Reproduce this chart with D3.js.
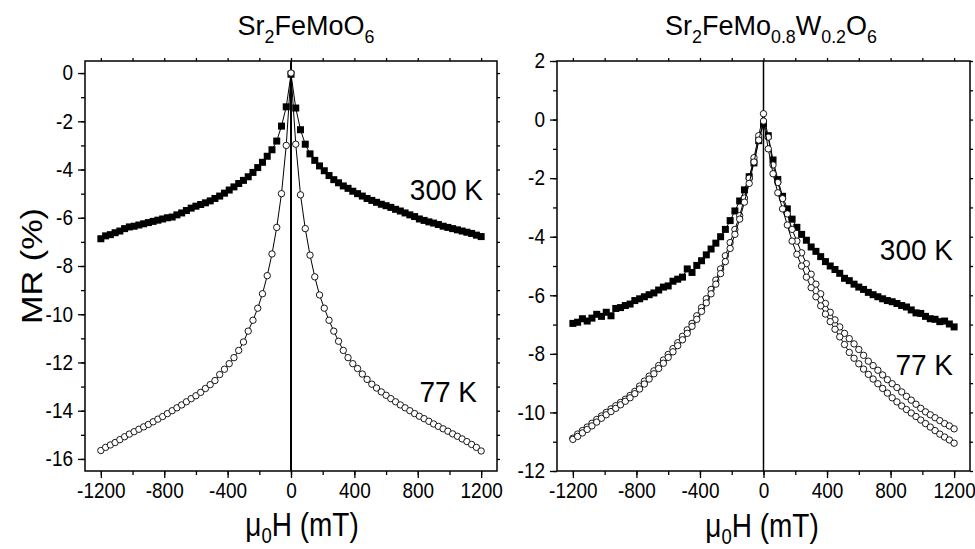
<!DOCTYPE html>
<html>
<head>
<meta charset="utf-8">
<script src="https://cdn.jsdelivr.net/npm/d3@7"></script>
<style>
  body { margin: 0; background: #fff; }
  svg { display: block; font-family: "Liberation Sans", Arial, sans-serif; }
</style>
</head>
<body>
<div id="chart"></div>
<script>
// field grid (mT) shared by all sweeps
const fieldGrid = [-1200,-1170,-1140,-1110,-1080,-1050,-1020,-990,-960,-930,-900,-870,-840,-810,-780,-750,-720,-690,-660,-630,-600,-570,-540,-510,-480,-450,-420,-390,-360,-330,-300,-270,-240,-210,-180,-150,-120,-90,-60,-30,0,30,60,90,120,150,180,210,240,270,300,330,360,390,420,450,480,510,540,570,600,630,660,690,720,750,780,810,840,870,900,930,960,990,1020,1050,1080,1110,1140,1170,1200];

// Sr2FeMoO6, MR (%)
const sfmo300K = [-6.87,-6.75,-6.70,-6.62,-6.55,-6.45,-6.38,-6.35,-6.30,-6.25,-6.20,-6.15,-6.10,-6.05,-6.00,-5.97,-5.88,-5.80,-5.70,-5.60,-5.52,-5.45,-5.38,-5.30,-5.20,-5.10,-4.98,-4.85,-4.72,-4.58,-4.45,-4.30,-4.12,-3.92,-3.70,-3.45,-3.18,-2.82,-2.20,-1.40,-0.05,
  -1.45,-2.35,-2.95,-3.35,-3.62,-3.85,-4.05,-4.25,-4.42,-4.55,-4.68,-4.78,-4.90,-5.00,-5.10,-5.20,-5.28,-5.36,-5.44,-5.50,-5.57,-5.65,-5.72,-5.80,-5.88,-5.95,-6.05,-6.11,-6.17,-6.22,-6.28,-6.35,-6.40,-6.45,-6.50,-6.55,-6.60,-6.65,-6.72,-6.78];
const sfmo77K = [-15.65,-15.52,-15.42,-15.32,-15.20,-15.08,-14.97,-14.87,-14.77,-14.67,-14.57,-14.46,-14.35,-14.24,-14.12,-14.00,-13.88,-13.76,-13.63,-13.50,-13.38,-13.24,-13.08,-12.92,-12.75,-12.50,-12.28,-12.05,-11.80,-11.50,-11.15,-10.70,-10.25,-9.75,-9.15,-8.40,-7.50,-6.40,-5.00,-3.00,0.00,
  -2.95,-5.05,-6.45,-7.55,-8.45,-9.20,-9.75,-10.25,-10.70,-11.12,-11.50,-11.80,-12.05,-12.25,-12.48,-12.70,-12.90,-13.06,-13.22,-13.36,-13.50,-13.63,-13.76,-13.88,-14.00,-14.12,-14.23,-14.33,-14.44,-14.55,-14.65,-14.75,-14.85,-14.96,-15.06,-15.17,-15.28,-15.40,-15.52,-15.67];

// Sr2FeMo0.8W0.2O6, MR (%)
const sfmw300K = [-6.96,-6.92,-6.80,-6.88,-6.78,-6.65,-6.72,-6.58,-6.70,-6.45,-6.42,-6.35,-6.30,-6.18,-6.12,-6.05,-5.98,-5.92,-5.82,-5.72,-5.68,-5.52,-5.45,-5.38,-5.10,-5.22,-4.98,-4.82,-4.62,-4.42,-4.22,-4.00,-3.75,-3.45,-3.12,-2.78,-2.40,-1.95,-1.48,-0.72,-0.15,
  -0.55,-1.38,-2.05,-2.62,-3.05,-3.40,-3.68,-3.92,-4.12,-4.35,-4.50,-4.68,-4.85,-5.00,-5.12,-5.25,-5.42,-5.50,-5.62,-5.72,-5.80,-5.90,-5.98,-6.05,-6.12,-6.18,-6.22,-6.28,-6.35,-6.40,-6.50,-6.60,-6.62,-6.72,-6.80,-6.82,-6.90,-6.88,-6.98,-7.08];
const sfmw77Kup = [-10.88,-10.74,-10.62,-10.50,-10.37,-10.24,-10.12,-10.00,-9.88,-9.77,-9.66,-9.55,-9.42,-9.28,-9.10,-8.93,-8.76,-8.58,-8.40,-8.21,-8.02,-7.82,-7.62,-7.40,-7.18,-6.96,-6.70,-6.42,-6.12,-5.80,-5.48,-5.10,-4.65,-4.20,-3.75,-3.28,-2.68,-2.00,-1.30,-0.55,0.20,
  -0.60,-1.55,-2.15,-2.70,-3.22,-3.75,-4.15,-4.55,-4.92,-5.28,-5.62,-5.95,-6.28,-6.58,-6.84,-7.08,-7.30,-7.48,-7.66,-7.85,-8.05,-8.25,-8.40,-8.56,-8.72,-8.88,-9.02,-9.15,-9.30,-9.45,-9.58,-9.72,-9.86,-9.98,-10.08,-10.18,-10.28,-10.38,-10.46,-10.56];
const sfmw77Kdown = [-10.92,-10.82,-10.70,-10.58,-10.46,-10.33,-10.20,-10.08,-9.97,-9.86,-9.74,-9.62,-9.50,-9.36,-9.20,-9.03,-8.86,-8.68,-8.50,-8.32,-8.12,-7.93,-7.72,-7.52,-7.30,-7.06,-6.82,-6.55,-6.26,-5.95,-5.62,-5.26,-4.85,-4.40,-3.92,-3.40,-2.82,-2.18,-1.45,-0.70,-0.05,
  -1.00,-1.85,-2.50,-3.05,-3.60,-4.15,-4.60,-5.00,-5.38,-5.74,-6.05,-6.36,-6.64,-6.90,-7.16,-7.42,-7.68,-7.95,-8.15,-8.34,-8.52,-8.70,-8.86,-9.02,-9.18,-9.34,-9.50,-9.64,-9.78,-9.90,-10.02,-10.14,-10.26,-10.38,-10.50,-10.62,-10.74,-10.84,-10.94,-11.05];

const xTicks = [-1200, -800, -400, 0, 400, 800, 1200];

const width = 975;
const height = 549;
const plotTop = 61, plotBottom = 471;
const sy = 1.12; // glyphs in the reference are a bit taller than wide

const panels = [
  {
    left: 85, right: 497, yDomain: [-16.5, 0.5], yMajor: d3.range(-16, 1, 2), yMinor: d3.range(-16, 1, 1),
    title: [['Sr'], ['2', 1], ['FeMoO'], ['6', 1]], titleX: 306, xLabelX: 302, xLabelY: 536, zeroWidth: 2,
    series: [
      { values: sfmo300K, marker: 'square' },
      { values: sfmo77K, marker: 'circle' }
    ],
    labels: [{ text: '300 K', x: 483, y: 200 }, { text: '77 K', x: 477, y: 402 }]
  },
  {
    left: 557, right: 970, yDomain: [-12, 2], yMajor: d3.range(-12, 3, 2), yMinor: d3.range(-12, 3, 1),
    title: [['Sr'], ['2', 1], ['FeMo'], ['0.8', 1], ['W'], ['0.2', 1], ['O'], ['6', 1]], titleX: 771, xLabelX: 762, xLabelY: 537, zeroWidth: 1.5,
    series: [
      { values: sfmw300K, marker: 'square' },
      { values: sfmw77Kup, marker: 'circle' },
      { values: sfmw77Kdown, marker: 'circle' }
    ],
    labels: [{ text: '300 K', x: 953, y: 260 }, { text: '77 K', x: 953, y: 375 }]
  }
];

const svg = d3.select('#chart')
  .append('svg')
  .attr('width', width)
  .attr('height', height);

// text with optional subscripts: parts = [[string, isSub], ...]
function richText(parent, parts, x, y, size, anchor, transformExtra, subShift = 0.28) {
  const t = parent.append('text')
    .attr('transform', `translate(${x},${y}) ${transformExtra}`)
    .attr('text-anchor', anchor)
    .attr('font-size', size)
    .attr('fill', '#000');
  let down = false;
  parts.forEach(([s, sub]) => {
    const span = t.append('tspan').text(s);
    if (sub && !down) { span.attr('dy', size * subShift).attr('font-size', size * 0.66); down = true; }
    else if (sub) { span.attr('font-size', size * 0.66); }
    else if (down) { span.attr('dy', -size * subShift); down = false; }
  });
  return t;
}

panels.forEach(p => {
  const g = svg.append('g');
  const x = d3.scaleLinear().domain([-1300, 1300]).range([p.left, p.right]);
  const y = d3.scaleLinear().domain(p.yDomain).range([plotBottom, plotTop]);

  // minor ticks on all four sides
  g.append('g').attr('transform', `translate(${p.left},0)`)
    .call(d3.axisLeft(y).tickValues(p.yMinor).tickSize(4).tickFormat(''));
  g.append('g').attr('transform', `translate(${p.right},0)`)
    .call(d3.axisRight(y).tickValues(p.yMinor).tickSize(3).tickFormat(''));
  g.append('g').attr('transform', `translate(0,${plotBottom})`)
    .call(d3.axisBottom(x).tickValues(d3.range(-1200, 1201, 200)).tickSize(4).tickFormat(''));
  g.append('g').attr('transform', `translate(0,${plotTop})`)
    .call(d3.axisTop(x).tickValues(d3.range(-1200, 1201, 200)).tickSize(3).tickFormat(''));

  // major ticks with labels (plain hyphen as minus, like the original)
  const yAxis = g.append('g').attr('transform', `translate(${p.left},0)`)
    .call(d3.axisLeft(y).tickValues(p.yMajor).tickSize(7).tickPadding(5).tickFormat(d => String(d)));
  const xAxis = g.append('g').attr('transform', `translate(0,${plotBottom})`)
    .call(d3.axisBottom(x).tickValues(xTicks).tickSize(7).tickPadding(4).tickFormat(d => String(d)));

  [yAxis, xAxis].forEach(a => {
    a.selectAll('text').attr('font-size', 19).attr('fill', '#000')
      .attr('transform', `scale(1,${sy})`);
  });
  g.selectAll('g').attr('font-family', null).attr('font-size', null);
  g.selectAll('.tick line').attr('stroke', '#000').attr('stroke-width', 1.3);
  g.selectAll('.domain').remove();

  // frame
  g.append('rect')
    .attr('x', p.left).attr('y', plotTop)
    .attr('width', p.right - p.left).attr('height', plotBottom - plotTop)
    .attr('fill', 'none').attr('stroke', '#000').attr('stroke-width', 1.5);

  // zero-field line
  g.append('line')
    .attr('x1', x(0)).attr('x2', x(0)).attr('y1', plotTop).attr('y2', plotBottom)
    .attr('stroke', '#000').attr('stroke-width', p.zeroWidth);

  const line = d3.line().x(d => x(d[0])).y(d => y(d[1]));

  p.series.forEach(s => {
    const pts = fieldGrid.map((h, i) => [h, s.values[i]]);
    g.append('path').datum(pts)
      .attr('d', line)
      .attr('fill', 'none').attr('stroke', '#000').attr('stroke-width', 1);
    if (s.marker === 'square') {
      g.append('g').selectAll('rect').data(pts).join('rect')
        .attr('x', d => x(d[0]) - 3.5).attr('y', d => y(d[1]) - 3.5)
        .attr('width', 7).attr('height', 7)
        .attr('fill', '#000');
    } else {
      g.append('g').selectAll('circle').data(pts).join('circle')
        .attr('cx', d => x(d[0])).attr('cy', d => y(d[1]))
        .attr('r', 3.2)
        .attr('fill', '#fff').attr('stroke', '#000').attr('stroke-width', 0.9);
    }
  });

  p.labels.forEach(l => {
    richText(g, [[l.text]], l.x, l.y, 28, 'end', `scale(1,1.08)`);
  });

  richText(g, p.title, p.titleX, 35, 27, 'middle', `scale(1,1.05)`);
  richText(g, [['\u03bc'], ['0', 1], ['H (mT)']], p.xLabelX, p.xLabelY, 28, 'middle', `scale(1,1.18)`, 0.2);
});

richText(svg, [['MR (%)']], 42, 266, 29, 'middle', `rotate(-90) scale(1.18,1)`);
</script>
</body>
</html>
